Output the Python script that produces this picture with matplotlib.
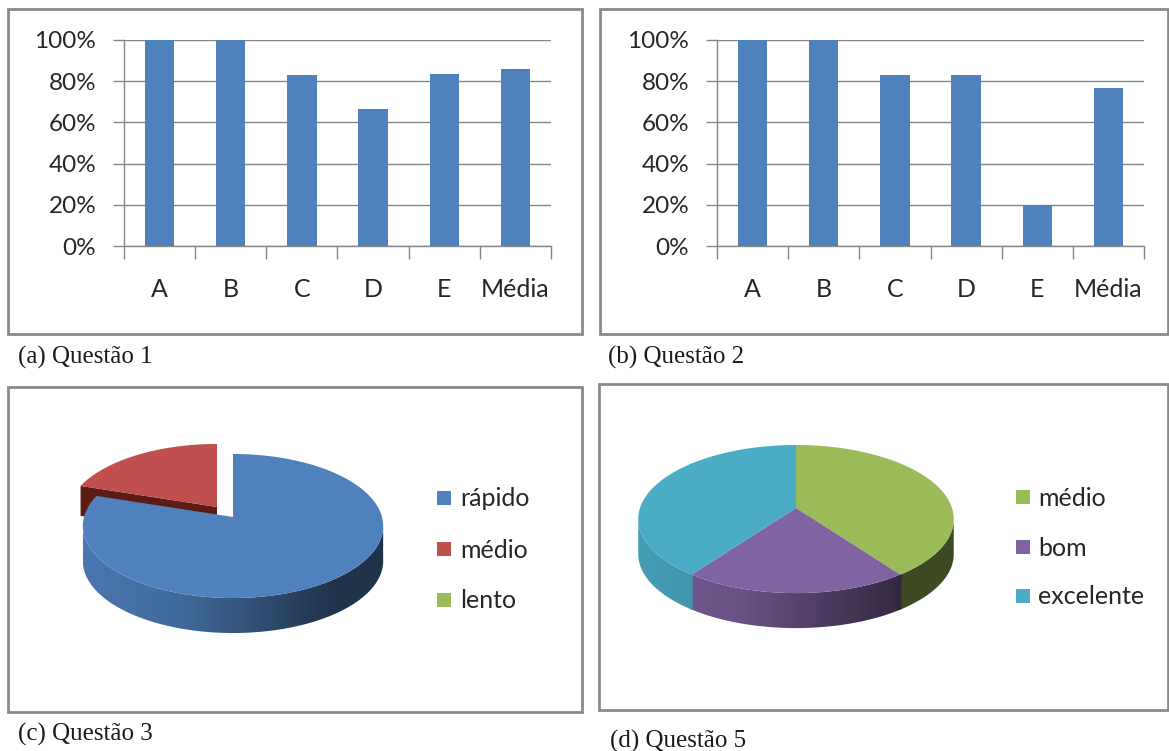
import numpy as np
import matplotlib
matplotlib.use('Agg')
import matplotlib.pyplot as plt
from matplotlib.patches import Rectangle, Polygon

W, H = 1169, 751

categories = ['A', 'B', 'C', 'D', 'E', 'Média']
q1_values = [100, 100, 83, 66.5, 83.5, 86]
q2_values = [100, 100, 83, 83, 20, 76.5]
percent_ticks = [0, 20, 40, 60, 80, 100]

q3_labels = ['rápido', 'médio', 'lento']
q3_values = [80, 20, 0]
q5_labels = ['médio', 'bom', 'excelente']
q5_values = [40, 20, 40]

captions = ['(a) Questão 1', '(b) Questão 2', '(c) Questão 3', '(d) Questão 5']

BLUE = '#4f81bd'
RED = '#c0504d'
GREEN = '#9bbb59'
PURPLE = '#8064a2'
TEAL = '#4bacc6'
GRAY = '#868686'
FRAME = '#8a8a8a'
TEXT = '#262626'

plt.rcParams['font.family'] = ['Lato', 'DejaVu Sans']

fig = plt.figure(figsize=(W / 100, H / 100), dpi=100)

# background axes in image pixels, y going down
bg = fig.add_axes([0, 0, 1, 1])
bg.set_xlim(0, W)
bg.set_ylim(H, 0)
bg.axis('off')

for x0, y0, x1, y1 in [(8, 9, 582, 334), (600, 9, 1168, 334), (8, 387, 582, 712), (599, 384, 1168, 710)]:
    bg.add_patch(Rectangle((x0, y0), x1 - x0, y1 - y0, fill=False, ec=FRAME, lw=2))


def bar_panel(left, right, values):
    top, bottom = 40, 246
    ax = fig.add_axes([left / W, 1 - bottom / H, (right - left) / W, (bottom - top) / H])
    ax.patch.set_alpha(0)
    x = np.arange(len(values))
    ax.bar(x, values, width=0.41, color=BLUE, zorder=3)
    ax.set_xlim(-0.5, len(values) - 0.5)
    ax.set_ylim(0, 100)
    ax.set_yticks(percent_ticks)
    ax.set_yticklabels([str(t) + '%' for t in percent_ticks], fontsize=17.5, color=TEXT)
    ax.set_xticks(x)
    ax.set_xticklabels(categories, fontsize=18, color=TEXT)
    ax.set_xticks(np.arange(len(values) + 1) - 0.5, minor=True)
    ax.grid(axis='y', color=GRAY, lw=1, zorder=0)
    ax.tick_params(axis='y', length=8, width=1, color=GRAY, pad=12)
    ax.tick_params(axis='x', which='major', length=0, pad=23)
    ax.tick_params(axis='x', which='minor', length=9, width=1, color=GRAY)
    for side in ['top', 'right']:
        ax.spines[side].set_visible(False)
    for side in ['left', 'bottom']:
        ax.spines[side].set_color(GRAY)
        ax.spines[side].set_linewidth(1)


def rim(t, vx, vy, rx, ry, p):
    # point on the pie edge, with a little perspective (back is further away)
    w = 1 + p * np.cos(t)
    return vx + rx * np.sin(t) / w, vy - ry * np.cos(t) / w


def wall_shade(u):
    return np.interp(u, [0, 0.33, 0.83, 1], [0.92, 0.82, 0.4, 0.4])


def pie_panel(values, colors, vx, vy, rx, ry, p, depth, explode=None):
    total = sum(values)
    edges = np.radians(np.cumsum([0] + list(values)) / total * 360)
    slices = list(zip(edges[:-1], edges[1:], colors))
    all_x = rim(np.linspace(0, 2 * np.pi, 721), vx, vy, rx, ry, p)[0]
    xmin, xmax = all_x.min(), all_x.max()

    # exploded slice goes first, the rest covers it
    order = list(range(len(slices)))
    if explode is not None:
        order.remove(explode[0])
        i, dx, dy, cut_color, cut_depth = explode
        t0, t1, color = slices[i]
        ex, ey = rim(t0, vx + dx, vy + dy, rx, ry, p)
        bg.fill([vx + dx, ex, ex, vx + dx], [vy + dy, ey, ey + cut_depth, vy + dy + cut_depth],
                color=cut_color, lw=0, zorder=1)
        ts = np.linspace(t0, t1, 80)
        sx, sy = rim(ts, vx + dx, vy + dy, rx, ry, p)
        bg.fill(np.r_[vx + dx, sx], np.r_[vy + dy, sy], color=color, lw=0, zorder=1)

    # side wall, a horizontal gradient clipped to the front part of the rim
    grid = np.linspace(0, 1, 300)
    for i in order:
        t0, t1, color = slices[i]
        if t1 == t0:
            continue
        # slight overlap so no white seam shows between slices
        ts = np.linspace(t0 - 0.015, t1 + 0.015, 300)
        sx, sy = rim(ts, vx, vy, rx, ry, p)
        front = np.r_[False, np.diff(sx) < 0]
        if front.sum() < 2:
            continue
        fx, fy = sx[front], sy[front]
        rgb = np.outer(wall_shade(grid), matplotlib.colors.to_rgb(color))[np.newaxis, :, :]
        im = bg.imshow(rgb, extent=(xmin, xmax, vy + ry * 2 + depth, vy - ry * 2), aspect='auto',
                       interpolation='bilinear', zorder=2)
        wall = Polygon(np.c_[np.r_[fx, fx[::-1]], np.r_[fy, fy[::-1] + depth]], closed=True,
                       transform=bg.transData)
        im.set_clip_path(wall)

    for i in order:
        t0, t1, color = slices[i]
        if t1 == t0:
            continue
        ts = np.linspace(t0, t1, 200)
        sx, sy = rim(ts, vx, vy, rx, ry, p)
        bg.fill(np.r_[vx, sx], np.r_[vy, sy], color=color, lw=0, zorder=3)


def legend(labels, colors, x_box, x_text, ys, size):
    for label, color, y in zip(labels, colors, ys):
        bg.add_patch(Rectangle((x_box - size / 2, y - size / 2), size, size, color=color, lw=0))
        bg.text(x_text, y + 1, label, fontsize=18, color=TEXT, va='center', ha='left')


bar_panel(124, 551, q1_values)
bar_panel(717, 1144, q2_values)

pie_panel(q3_values, [BLUE, RED, GREEN], 233, 517, 149, 70.9, 0.125, 35,
          explode=(1, -16, -10, '#5b1b17', 30))
pie_panel(q5_values, [GREEN, PURPLE, TEAL], 796, 508, 156, 72.4, 0.149, 35)

bg.set_xlim(0, W)
bg.set_ylim(H, 0)

legend(q3_labels, [BLUE, RED, GREEN], 444, 460, [498, 549, 600], 14)
legend(q5_labels, [GREEN, PURPLE, TEAL], 1023, 1038, [497, 547, 596], 14)

for text, x, y in zip(captions, [18, 608, 18, 610], [357, 357, 734, 741]):
    bg.text(x, y, text, family=['Liberation Serif'], fontsize=18, color='#1a1a1a', va='center', ha='left')

plt.savefig('out.png', dpi=100)
